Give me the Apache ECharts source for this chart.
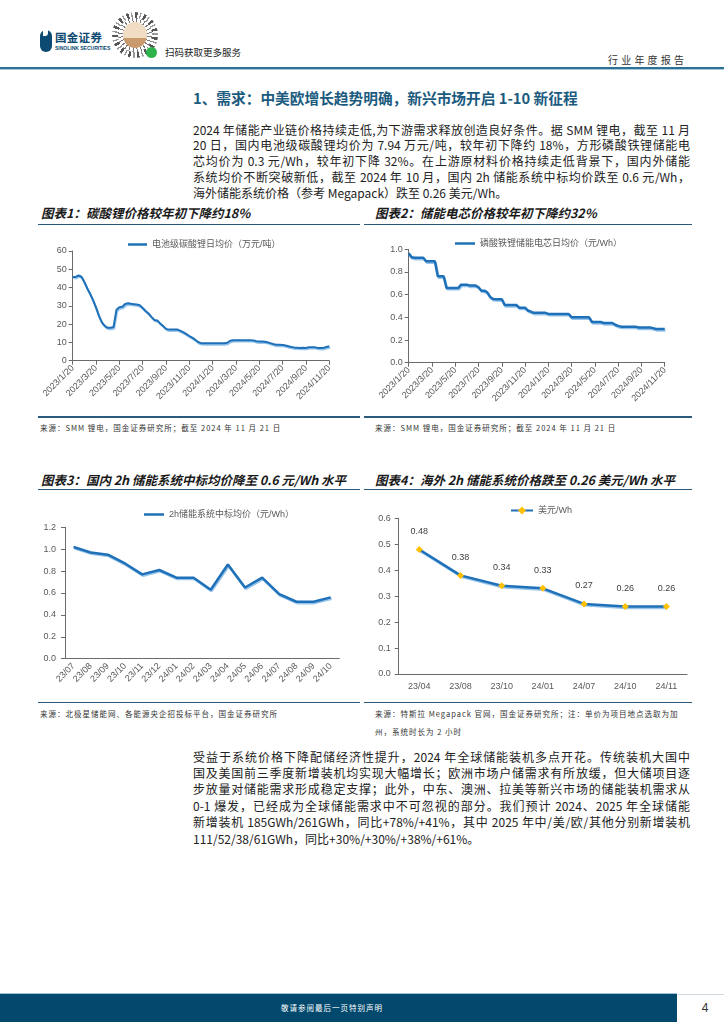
<!DOCTYPE html>
<html><head><meta charset="utf-8">
<script src="https://cdn.jsdelivr.net/npm/echarts/dist/echarts.min.js"></script>
<style>
html,body{margin:0;padding:0;background:#fff;}
body{width:724px;height:1024px;position:relative;overflow:hidden;font-family:"Noto Sans CJK SC","Noto Sans",sans-serif;color:#222;}
.a{position:absolute;}
.ln{position:absolute;height:1.5px;background:#2b5a7c;}
.pl{position:absolute;left:193px;width:497px;font-size:12px;white-space:nowrap;}
.pl.j{text-align:justify;text-align-last:justify;white-space:normal;}
.tt{position:absolute;font-size:12.5px;line-height:14px;font-weight:bold;font-style:italic;color:#1a1a1a;white-space:nowrap;}
.src{position:absolute;font-size:7.5px;line-height:11px;letter-spacing:1px;color:#333;white-space:nowrap;}
.ch{position:absolute;}
</style></head>
<body>
<!-- header -->
<div class="a" style="left:40px;top:30px;width:12px;height:22px;background:#0c4a72;border-radius:6px 6px 6px 6px;"></div>
<div class="a" style="left:43px;top:29px;width:5px;height:7px;background:#fff;border-radius:0 0 3px 0;"></div>
<div class="a" style="left:55px;top:29px;font-size:11.5px;line-height:16px;font-weight:bold;color:#0c4a72;letter-spacing:0.3px;">国金证券</div>
<div class="a" style="left:55px;top:45px;font-size:5px;line-height:7px;font-weight:bold;color:#0c4a72;font-family:'Liberation Sans',sans-serif;">SINOLINK SECURITIES</div>
<div class="a" style="left:112px;top:12px;width:46px;height:46px;border-radius:50%;background:repeating-conic-gradient(#555 0deg 7deg,#fff 7deg 13deg,#999 13deg 17deg,#fff 17deg 24deg);"></div>
<div class="a" style="left:118px;top:18px;width:34px;height:34px;border-radius:50%;background:repeating-conic-gradient(#fff 0deg 5deg,#777 5deg 9deg,#fff 9deg 15deg);"></div>
<div class="a" style="left:123px;top:22px;width:24px;height:26px;border-radius:50%;background:linear-gradient(#f1dcc4 0 60%,#c99a6e 60% 100%);"></div>
<div class="a" style="left:146px;top:47px;width:11px;height:11px;border-radius:50%;background:#2db34a;"></div>
<div class="a" style="left:165px;top:45px;font-size:9.5px;line-height:14px;color:#222;">扫码获取更多服务</div>
<div class="a" style="left:608px;top:53px;font-size:10px;line-height:14px;letter-spacing:3.2px;color:#333;">行业年度报告</div>
<div class="a" style="left:0;top:67px;width:724px;height:2px;background:#2e7197;"></div>
<div class="a" style="left:0;top:69px;width:724px;height:1px;background:#a9c8da;"></div>

<!-- heading -->
<div class="a" style="left:193px;top:88px;font-size:14.7px;line-height:20px;font-weight:bold;color:#1b5b7e;white-space:nowrap;">1、需求：中美欧增长趋势明确，新兴市场开启 1-10 新征程</div>

<!-- paragraph 1 -->
<div class="pl j" style="top:121.5px;line-height:16px;">2024 年储能产业链价格持续走低,为下游需求释放创造良好条件。据 SMM 锂电，截至 11 月</div>
<div class="pl j" style="top:137.3px;line-height:16px;">20 日，国内电池级碳酸锂均价为 7.94 万元/吨，较年初下降约 18%，方形磷酸铁锂储能电</div>
<div class="pl j" style="top:153.1px;line-height:16px;">芯均价为 0.3 元/Wh，较年初下降 32%。在上游原材料价格持续走低背景下，国内外储能</div>
<div class="pl j" style="top:168.9px;line-height:16px;">系统均价不断突破新低，截至 2024 年 10 月，国内 2h 储能系统中标均价跌至 0.6 元/Wh，</div>
<div class="pl" style="top:184.7px;line-height:16px;">海外储能系统价格（参考 Megapack）跌至 0.26 美元/Wh。</div>

<!-- chart titles row 1 -->
<div class="tt" style="left:41px;top:205.5px;">图表1：碳酸锂价格较年初下降约18%</div>
<div class="tt" style="left:375px;top:205.5px;">图表2：储能电芯价格较年初下降约32%</div>
<div class="ln" style="left:38px;top:223.5px;width:322px;"></div>
<div class="ln" style="left:364px;top:223.5px;width:328px;"></div>
<div class="ln" style="left:38px;top:416px;width:322px;"></div>
<div class="ln" style="left:364px;top:416px;width:328px;"></div>
<div class="src" style="left:40px;top:422px;">来源：SMM 锂电，国金证券研究所；截至 2024 年 11 月 21 日</div>
<div class="src" style="left:375px;top:422px;">来源：SMM 锂电，国金证券研究所；截至 2024 年 11 月 21 日</div>

<!-- chart titles row 2 -->
<div class="tt" style="left:41px;top:472.7px;">图表3：国内 2h 储能系统中标均价降至 0.6 元/Wh 水平</div>
<div class="tt" style="left:375px;top:472.7px;">图表4：海外 2h 储能系统价格跌至 0.26 美元/Wh 水平</div>
<div class="ln" style="left:38px;top:488.5px;width:322px;"></div>
<div class="ln" style="left:364px;top:488.5px;width:328px;"></div>
<div class="ln" style="left:38px;top:701.5px;width:322px;"></div>
<div class="ln" style="left:364px;top:701.5px;width:328px;"></div>
<div class="src" style="left:40px;top:707.5px;">来源：北极星储能网、各能源央企招投标平台，国金证券研究所</div>
<div class="src" style="left:375px;top:707.5px;">来源：特斯拉 Megapack 官网，国金证券研究所；注：单价为项目地点选取为加</div>
<div class="src" style="left:375px;top:725.5px;">州，系统时长为 2 小时</div>

<!-- paragraph 2 -->
<div class="pl j" style="top:748.5px;line-height:16px;">受益于系统价格下降配储经济性提升，2024 年全球储能装机多点开花。传统装机大国中</div>
<div class="pl j" style="top:764.9px;line-height:16px;">国及美国前三季度新增装机均实现大幅增长；欧洲市场户储需求有所放缓，但大储项目逐</div>
<div class="pl j" style="top:781.3px;line-height:16px;">步放量对储能需求形成稳定支撑；此外，中东、澳洲、拉美等新兴市场的储能装机需求从</div>
<div class="pl j" style="top:797.7px;line-height:16px;">0-1 爆发，已经成为全球储能需求中不可忽视的部分。我们预计 2024、2025 年全球储能</div>
<div class="pl j" style="top:814.1px;line-height:16px;">新增装机 185GWh/261GWh，同比+78%/+41%，其中 2025 年中/美/欧/其他分别新增装机</div>
<div class="pl" style="top:830.5px;line-height:16px;">111/52/38/61GWh，同比+30%/+30%/+38%/+61%。</div>

<!-- footer -->
<div class="a" style="left:0;top:993px;width:677px;height:1px;background:#9fc3d8;"></div>
<div class="a" style="left:0;top:994px;width:677px;height:28px;background:#02496d;"></div>
<div class="a" style="left:0;top:1002px;width:664px;text-align:center;font-size:7.5px;line-height:12px;color:#fff;letter-spacing:1px;">敬请参阅最后一页特别声明</div>
<div class="a" style="left:678px;top:994px;width:46px;height:28px;background:#fff;border-top:1px solid #cfd9e0;"></div>
<div class="a" style="left:678px;top:1000px;width:54px;text-align:center;font-size:12px;line-height:16px;color:#333;font-family:'Liberation Sans',sans-serif;">4</div>

<div id="c1" class="ch" style="left:0;top:228px;width:362px;height:186px;"></div>
<div id="c2" class="ch" style="left:362px;top:228px;width:362px;height:186px;"></div>
<div id="c3" class="ch" style="left:0;top:492px;width:362px;height:208px;"></div>
<div id="c4" class="ch" style="left:362px;top:492px;width:362px;height:208px;"></div>

<script>
// ---------- data ----------
const dates = ("2023/1/20 2023/1/27 2023/2/4 2023/2/12 2023/2/20 2023/2/27 2023/3/4 2023/3/12 2023/3/20 2023/3/27 " +
"2023/4/4 2023/4/12 2023/4/20 2023/4/27 2023/5/4 2023/5/12 2023/5/20 2023/5/27 2023/6/4 2023/6/12 2023/6/20 2023/6/27 " +
"2023/7/4 2023/7/12 2023/7/20 2023/7/27 2023/8/4 2023/8/12 2023/8/20 2023/8/27 2023/9/4 2023/9/12 2023/9/20 2023/9/27 " +
"2023/10/4 2023/10/12 2023/10/20 2023/10/27 2023/11/4 2023/11/12 2023/11/20 2023/11/27 2023/12/4 2023/12/12 2023/12/20 2023/12/27 " +
"2024/1/4 2024/1/12 2024/1/20 2024/1/27 2024/2/4 2024/2/12 2024/2/20 2024/2/27 2024/3/4 2024/3/12 2024/3/20 2024/3/27 " +
"2024/4/4 2024/4/12 2024/4/20 2024/4/27 2024/5/4 2024/5/12 2024/5/20 2024/5/27 2024/6/4 2024/6/12 2024/6/20 2024/6/27 " +
"2024/7/4 2024/7/12 2024/7/20 2024/7/27 2024/8/4 2024/8/12 2024/8/20 2024/8/27 2024/9/4 2024/9/12 2024/9/20 2024/9/27 " +
"2024/10/4 2024/10/12 2024/10/20 2024/10/27 2024/11/4 2024/11/12 2024/11/20").split(' ');

const lithiumName = '电池级碳酸锂日均价（万元/吨）';
const lithium = [45.8,45.8,46.6,45.9,43.0,39.5,36.5,33.0,29.0,24.5,
  21.0,19.0,18.0,18.0,18.4,27.8,29.2,29.5,31.0,31.4,
  31.1,30.9,30.7,30.3,28.8,27.2,25.8,24.0,22.3,22.0,
  20.4,19.0,17.4,17.0,17.0,17.1,17.0,16.3,15.5,14.5,
  13.5,12.6,11.5,10.2,9.6,9.5,9.5,9.5,9.5,9.5,
  9.5,9.5,9.5,9.8,10.9,11.2,11.2,11.2,11.2,11.2,
  11.2,11.2,11.1,10.6,10.5,10.5,10.4,10.0,9.5,9.0,
  8.7,8.7,8.6,8.3,7.9,7.5,7.2,7.1,7.0,7.1,
  7.0,7.4,7.4,7.4,7.0,6.9,7.0,7.5,7.9];

const cellName = '磷酸铁锂储能电芯日均价（元/Wh）';
const cell = [0.965,0.93,0.925,0.925,0.925,0.925,0.894,0.894,0.894,0.894,
  0.762,0.762,0.762,0.659,0.659,0.659,0.659,0.659,0.688,0.688,
  0.688,0.68,0.68,0.68,0.665,0.635,0.635,0.62,0.58,0.562,
  0.56,0.56,0.56,0.509,0.509,0.509,0.509,0.509,0.485,0.485,
  0.485,0.46,0.45,0.44,0.44,0.44,0.44,0.44,0.43,0.43,
  0.43,0.43,0.43,0.43,0.43,0.43,0.40,0.40,0.40,0.40,
  0.40,0.40,0.40,0.359,0.359,0.359,0.359,0.35,0.35,0.35,
  0.35,0.335,0.325,0.318,0.318,0.318,0.318,0.318,0.318,0.31,
  0.31,0.31,0.31,0.31,0.305,0.297,0.297,0.297,0.297];

const sysMonths = ['23/07','23/08','23/09','23/10','23/11','23/12','24/01','24/02','24/03','24/04','24/05','24/06','24/07','24/08','24/09','24/10'];
const sysName = '2h储能系统中标均价（元/Wh）';
const sysPrice = [1.02,0.97,0.95,0.87,0.77,0.81,0.74,0.74,0.63,0.86,0.65,0.74,0.59,0.52,0.52,0.56];

const megaMonths = ['23/04','23/08','23/10','24/01','24/07','24/10','24/11'];
const megaName = '美元/Wh';
const megaPrice = [0.48,0.38,0.34,0.33,0.27,0.26,0.26];

// ---------- style ----------
const FONT = '"Liberation Sans", Arial, "Noto Sans CJK SC", sans-serif';
const AX = '#6b6b6b';
const TXT = '#595959';
const BLUE = '#1e70b9';
const lineSty = (w) => ({width:w, color:BLUE, shadowColor:'rgba(140,190,232,0.9)', shadowBlur:0, shadowOffsetX:0.8, shadowOffsetY:1.4});

function yAx(min,max,step,dec,margin){
  return {type:'value', min:min, max:max, interval:step,
    splitLine:{show:false},
    axisLine:{show:true, lineStyle:{color:AX, width:1}},
    axisTick:{show:true, length:4, lineStyle:{color:AX}},
    axisLabel:{fontSize:9, color:TXT, fontFamily:FONT, margin:margin,
      formatter:(v)=> dec ? v.toFixed(dec) : String(v)}};
}
function legendLine(name,left,top,w){
  return {data:[{name:name, icon:'rect'}], left:left, top:top, itemWidth:w, itemHeight:2.5, itemGap:4,
    textStyle:{fontSize:9, color:TXT, fontFamily:FONT}};
}

// chart 1
echarts.init(document.getElementById('c1')).setOption({
  animation:false,
  legend:legendLine(lithiumName,123,7,19),
  grid:{left:72.7, top:23, width:256.6, height:109.7, containLabel:false, outerBoundsMode:'none'},
  xAxis:{type:'category', data:dates, boundaryGap:false,
    axisLine:{lineStyle:{color:AX}},
    axisTick:{interval:7, length:4, lineStyle:{color:AX}},
    axisLabel:{interval:7, rotate:45, fontSize:9, color:TXT, fontFamily:FONT, margin:6}},
  yAxis:yAx(0,60,10,0,6),
  series:[{type:'line', name:lithiumName, data:lithium, symbol:'none', itemStyle:{color:BLUE}, lineStyle:lineSty(2)}]
});

// chart 2
echarts.init(document.getElementById('c2')).setOption({
  animation:false,
  legend:legendLine(cellName,88,6,20),
  grid:{left:46.7, top:21.3, width:256, height:113.4, containLabel:false, outerBoundsMode:'none'},
  xAxis:{type:'category', data:dates, boundaryGap:false,
    axisLine:{lineStyle:{color:AX}},
    axisTick:{interval:7, length:4, lineStyle:{color:AX}},
    axisLabel:{interval:7, rotate:45, fontSize:9, color:TXT, fontFamily:FONT, margin:6}},
  yAxis:yAx(0,1,0.2,1,6),
  series:[{type:'line', name:cellName, data:cell, symbol:'none', itemStyle:{color:BLUE}, lineStyle:lineSty(2.5)}]
});

// chart 3
echarts.init(document.getElementById('c3')).setOption({
  animation:false,
  legend:legendLine(sysName,139,13,20),
  grid:{left:65, top:35.3, width:274.3, height:131.4, containLabel:false, outerBoundsMode:'none'},
  xAxis:{type:'category', data:sysMonths, boundaryGap:true,
    axisLine:{lineStyle:{color:AX}},
    axisTick:{length:4, lineStyle:{color:AX}},
    axisLabel:{interval:0, rotate:45, fontSize:9, color:TXT, fontFamily:FONT, margin:6}},
  yAxis:yAx(0,1.2,0.2,1,9),
  series:[{type:'line', name:sysName, data:sysPrice, symbol:'none', itemStyle:{color:BLUE}, lineStyle:lineSty(2.5)}]
});

// chart 4
echarts.init(document.getElementById('c4')).setOption({
  animation:false,
  legend:{data:[megaName], left:143, top:9, itemWidth:22, itemHeight:10, itemGap:4,
    textStyle:{fontSize:9, color:TXT, fontFamily:FONT}},
  grid:{left:36.7, top:26.3, width:288.3, height:155.7, containLabel:false, outerBoundsMode:'none'},
  xAxis:{type:'category', data:megaMonths, boundaryGap:true,
    axisLine:{lineStyle:{color:AX}},
    axisTick:{length:4, lineStyle:{color:AX}},
    axisLabel:{interval:0, fontSize:9, color:TXT, fontFamily:FONT, margin:8}},
  yAxis:yAx(0,0.6,0.1,1,8),
  series:[{type:'line', name:megaName, data:megaPrice, symbol:'diamond', symbolSize:7,
    itemStyle:{color:'#FFC000', borderWidth:0},
    lineStyle:lineSty(2.5),
    label:{show:true, position:'top', distance:10, fontSize:9, color:'#404040', fontFamily:FONT,
      formatter:(p)=>p.value.toFixed(2)}}]
});
</script>
</body></html>
